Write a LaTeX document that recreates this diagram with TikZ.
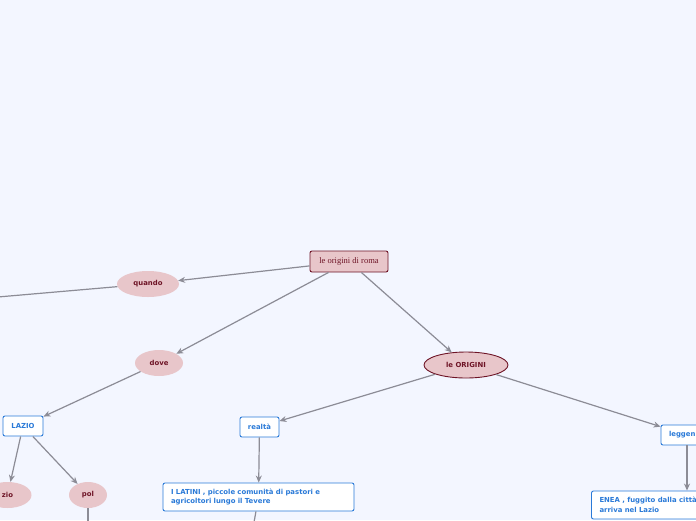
\documentclass[tikz,border=0pt]{standalone}
\usepackage{fontspec}
\setmainfont{Liberation Serif}
\newfontfamily\mmsans{DejaVu Sans}
\usetikzlibrary{arrows.meta,shapes.geometric,positioning}
\definecolor{mmBack}{HTML}{F3F6FF}
\definecolor{mmPink}{HTML}{E8C6CA}
\definecolor{mmDark}{HTML}{6E1426}
\definecolor{mmBlue}{HTML}{2A7AD8}
\definecolor{mmGray}{HTML}{8C8C96}
\tikzset{
  mmnode/.style={font=\mmsans\bfseries\fontsize{6.9}{9.5}\selectfont, inner sep=0pt, align=center},
  mmroot/.style={draw=mmDark, fill=mmPink, rounded corners=2pt, line width=0.9pt,
    minimum width=78pt, minimum height=21pt, text=mmDark, font=\fontsize{8.5}{10}\selectfont},
  mmtopic/.style={mmnode, ellipse, fill=mmPink, text=mmDark, minimum height=26pt},
  mmsub/.style={mmnode, draw=mmBlue, fill=white, rounded corners=2pt, line width=0.9pt,
    text=mmBlue, minimum height=20pt},
  mmtext/.style={mmsub, align=left, text width=175pt, inner xsep=8pt, minimum height=28pt},
  mmedge/.style={-{Stealth[length=7pt,width=6pt]}, line width=1.2pt, mmGray},
  mmline/.style={line width=1.2pt, mmGray}
}
\begin{document}
\begin{tikzpicture}[x=1pt, y=-1pt]
  \useasboundingbox (0,0) rectangle (696,520);
  \fill[mmBack] (0,0) rectangle (696,520);
  \clip (0,0) rectangle (696,520);
  % main topics
  \node[mmroot] (root) at (349,261.5) {le origini di roma};
  \node[mmtopic, minimum width=62pt] (quando) at (148,284) {quando};
  \node[mmtopic, minimum width=48pt] (dove) at (159,363) {dove};
  \node[mmtopic, draw=mmDark, line width=0.9pt, minimum width=84pt] (origini) at (466,365) {le ORIGINI};
  % sub topics
  \node[mmsub, minimum width=40pt] (lazio) at (23,426) {LAZIO};
  \node[mmtopic, minimum width=48pt] (zio) at (7.5,495) {zio};
  \node[mmtopic, minimum width=38pt] (pol) at (88,495) {pol};
  \node[mmsub, minimum width=39pt] (realta) at (259.5,427) {realtà};
  \node[mmsub, minimum width=52pt, text width=36pt, align=left, inner xsep=8pt] (leggen) at (687,435) {leggen};
  \node[mmtext] (latini) at (258.5,497) {I LATINI , piccole comunità di pastori e\\agricoltori lungo il Tevere};
  \node[mmtext] (enea) at (687,505) {ENEA , fuggito dalla città\\arriva nel Lazio};
  % loose ends
  \coordinate (qout) at (-60,302);
  \coordinate (polout) at (88,545);
  \coordinate (latout) at (250,545);
  % connectors
  \draw[mmedge] (root) -- (quando);
  \draw[mmedge] (root) -- (dove);
  \draw[mmedge] (root) -- (origini);
  \draw[mmline] (quando) -- (qout);
  \draw[mmedge] (dove) -- (lazio);
  \draw[mmedge] (lazio) -- (zio);
  \draw[mmedge] (lazio) -- (pol);
  \draw[mmline] (pol) -- (polout);
  \draw[mmedge] (origini) -- (realta);
  \draw[mmedge] (origini) -- (leggen);
  \draw[mmedge] (realta) -- (latini);
  \draw[mmline] (latini) -- (latout);
  \draw[mmedge] (leggen) -- (enea);
\end{tikzpicture}
\end{document}
